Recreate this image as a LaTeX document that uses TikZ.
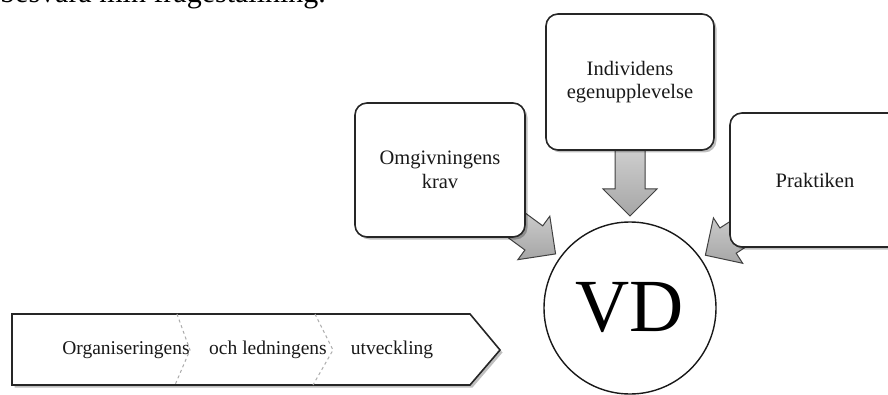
\documentclass[tikz,border=0pt]{standalone}
\usepackage{fontspec}
\setmainfont{Liberation Serif}
\usetikzlibrary{positioning, calc, shadows}

% broad arrow from #1 (start) to #2 (tip)
\newcommand{\fatarrow}[2]{%
	\coordinate (hb) at ($(#2)!27pt!(#1)$);
	\path[blockarrow] ($(#1)!15pt!90:(#2)$) -- ($(hb)!15pt!90:(#2)$) -- ($(hb)!27pt!90:(#2)$) -- (#2)
		-- ($(hb)!27pt!-90:(#2)$) -- ($(hb)!15pt!-90:(#2)$) -- ($(#1)!15pt!-90:(#2)$) -- cycle;
}

\begin{document}
\begin{tikzpicture}[x=1pt, y=1pt,
	box/.style={draw=black!85, line width=1.6pt, rounded corners=12pt, fill=white, align=center,
		text=black!90, font=\fontsize{20.5}{23.5}\selectfont, minimum width=170pt, minimum height=134pt,
		drop shadow={shadow xshift=2.5pt, shadow yshift=-2.5pt, fill=black, opacity=0.25}},
	blockarrow/.style={draw=black!75, line width=1pt, top color=gray!35, bottom color=gray!70},
	flowtext/.style={text=black!90, font=\fontsize{19.5}{22}\selectfont},
	divider/.style={gray!65, dashed, line width=1pt}]

	\useasboundingbox (0, 0) rectangle (888, 394);
	\clip (0, 0) rectangle (888, 394);

	\node[anchor=base west, inner sep=0pt, font=\fontsize{30}{36}\selectfont] (intro) at (0, 391) {besvara min frågeställning.};

	\node[circle, draw=black!90, line width=1.4pt, fill=white, minimum size=172pt, inner sep=0pt,
		font=\fontsize{75}{75}\selectfont] (vd) at (630, 86) {VD};

	% arrows first, the boxes hide their tails
	\coordinate (omgtail) at (504, 178);
	\coordinate (indtail) at (630, 252);
	\coordinate (praktail) at (760, 174);
	\coordinate (omgtip) at ($(vd.center)+(144:92)$);
	\coordinate (indtip) at ($(vd.center)+(90:92)$);
	\coordinate (praktip) at ($(vd.center)+(35:92)$);

	\fatarrow{omgtail}{omgtip}
	\fatarrow{indtail}{indtip}
	\fatarrow{praktail}{praktip}

	\node[box] (omg) at (440, 224) {Omgivningens\\krav};
	\node[box, minimum width=168pt, minimum height=136pt] (ind) at (630, 312) {Individens\\egenupplevelse};
	\node[box] (prak) at (815, 214) {Praktiken};

	% process chevron
	\draw[black!85, line width=1.6pt, fill=white, drop shadow={shadow xshift=2.5pt, shadow yshift=-2.5pt, fill=black, opacity=0.25}]
		(12, 80) -- (470, 80) -- (500, 44) -- (470, 9) -- (12, 9) -- cycle;
	\draw[divider] (177, 80) -- (190, 44) -- (175, 9);
	\draw[divider] (315, 80) -- (333, 44) -- (313, 9);

	\node[flowtext] (org) at (126, 44) {Organiseringens};
	\node[flowtext] (led) at (268, 44) {och ledningens};
	\node[flowtext] (utv) at (392, 44) {utveckling};

\end{tikzpicture}
\end{document}
